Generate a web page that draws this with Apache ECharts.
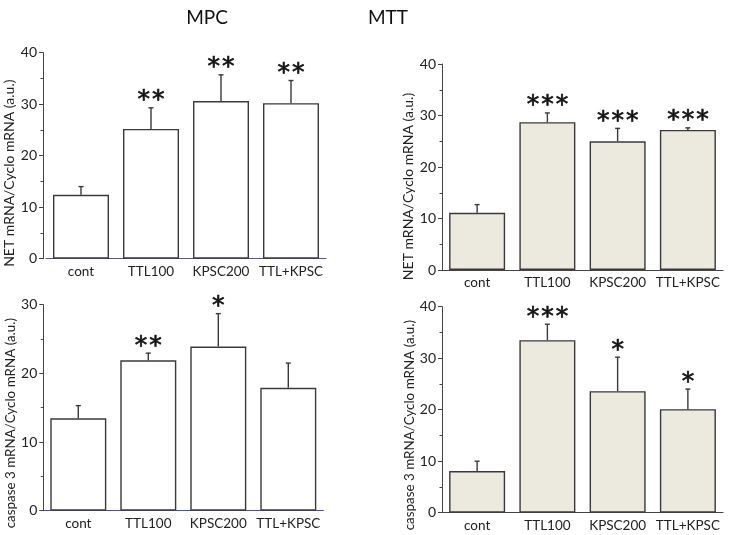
<!DOCTYPE html>
<html>
<head>
<meta charset="utf-8">
<script src="https://cdn.jsdelivr.net/npm/echarts@6/dist/echarts.min.js"></script>
<style>
html,body{margin:0;padding:0;background:#fff;}
#chart{width:729px;height:535px;}
</style>
</head>
<body>
<div id="chart"></div>
<script>
const categories = ['cont', 'TTL100', 'KPSC200', 'TTL+KPSC'];
const panelTitles = ['MPC', 'MTT'];
const netAxisName = 'NET mRNA/Cyclo mRNA (a.u.)';
const caspAxisName = 'caspase 3 mRNA/Cyclo mRNA (a.u.)';

const mpcNetMean = [12.4, 25.2, 30.6, 30.2];
const mpcNetErr = [1.6, 4.1, 5.1, 4.4];
const mpcNetSig = ['', '**', '**', '**'];

const mttNetMean = [11.1, 28.7, 25.0, 27.2];
const mttNetErr = [1.6, 1.8, 2.5, 0.4];
const mttNetSig = ['', '***', '***', '***'];

const mpcCaspMean = [13.45, 21.9, 23.9, 17.9];
const mpcCaspErr = [1.85, 1.05, 4.8, 3.6];
const mpcCaspSig = ['', '**', '*', ''];

const mttCaspMean = [8.1, 33.5, 23.6, 20.1];
const mttCaspErr = [1.9, 3.1, 6.6, 3.9];
const mttCaspSig = ['', '***', '*', '*'];

const yMax = [40, 40, 30, 40];

const FONT = 'Lato';
const panels = [
  {mean: mpcNetMean, err: mpcNetErr, sig: mpcNetSig, name: netAxisName, fill: '#ffffff', nameSize: 14,
   grid: {left: 46, top: 52.7, width: 280, height: 206}, yOffset: 3, pad: 35, gap: 22, xLine: '#5a5a78'},
  {mean: mttNetMean, err: mttNetErr, sig: mttNetSig, name: netAxisName, fill: '#eceade', nameSize: 14,
   grid: {left: 442, top: 64, width: 281, height: 206}, yOffset: 0, pad: 39, gap: 24, xLine: '#444444'},
  {mean: mpcCaspMean, err: mpcCaspErr, sig: mpcCaspSig, name: caspAxisName, fill: '#ffffff', nameSize: 13.4,
   grid: {left: 43.3, top: 304.7, width: 280, height: 206}, yOffset: 0, pad: 31, gap: 23, xLine: '#50508a'},
  {mean: mttCaspMean, err: mttCaspErr, sig: mttCaspSig, name: caspAxisName, fill: '#eceade', nameSize: 13.4,
   grid: {left: 442, top: 306.7, width: 281, height: 206}, yOffset: 0, pad: 31, gap: 24, xLine: '#444444'}
];

const grids = [], xAxes = [], yAxes = [], series = [];
panels.forEach((p, k) => {
  grids.push(Object.assign({outerBoundsMode: 'none', containLabel: false}, p.grid));
  xAxes.push({
    type: 'category', gridIndex: k, data: categories,
    axisLine: {lineStyle: {color: p.xLine, width: 1.2}},
    axisTick: {show: false},
    axisLabel: {color: '#222', fontFamily: FONT, fontSize: 13.5, margin: 6, interval: 0}
  });
  yAxes.push({
    type: 'value', gridIndex: k, min: 0, max: yMax[k], interval: 10, offset: p.yOffset,
    name: p.name, nameLocation: 'middle', nameGap: p.gap, nameRotate: 90,
    nameTextStyle: {color: '#222', fontFamily: FONT, fontSize: p.nameSize, padding: [0, p.pad, 0, 0]},
    axisLine: {show: true, lineStyle: {color: '#444', width: 1}},
    axisTick: {show: true, length: 4, lineStyle: {color: '#444'}},
    minorTick: {show: true, splitNumber: 2, length: 2.5, lineStyle: {color: '#444'}},
    splitLine: {show: false},
    axisLabel: {color: '#222', fontFamily: FONT, fontSize: 14, margin: 6}
  });
  series.push({
    type: 'bar', xAxisIndex: k, yAxisIndex: k, data: p.mean, barWidth: 56,
    itemStyle: {color: p.fill, borderColor: '#3a3a3a', borderWidth: 1.4},
    animation: false, z: 2
  });
  series.push({
    type: 'custom', xAxisIndex: k, yAxisIndex: k, animation: false, z: 3,
    data: p.mean.map((m, i) => [i, m, p.err[i]]),
    renderItem: function (params, api) {
      const i = params.dataIndex;
      const base = api.coord([api.value(0), api.value(1)]);
      const top = api.coord([api.value(0), api.value(1) + api.value(2)]);
      const style = {stroke: '#3a3a3a', lineWidth: 1.4};
      const children = [
        {type: 'line', shape: {x1: base[0], y1: base[1], x2: top[0], y2: top[1]}, style: style},
        {type: 'line', shape: {x1: top[0] - 2.5, y1: top[1], x2: top[0] + 2.5, y2: top[1]}, style: style}
      ];
      const n = p.sig[i].length;
      const pitch = 14.5;
      for (let j = 0; j < n; j++) {
        children.push({
          type: 'text',
          style: {
            text: '*', x: top[0] + (j - (n - 1) / 2) * pitch, y: top[1] - 7,
            fill: '#111', stroke: '#111', lineWidth: 0.7, font: '25px "DejaVu Sans"',
            align: 'center', verticalAlign: 'middle'
          }
        });
      }
      return {type: 'group', children: children};
    }
  });
});

const chart = echarts.init(document.getElementById('chart'), null, {renderer: 'canvas'});
chart.setOption({
  backgroundColor: '#fff',
  animation: false,
  title: [
    {text: panelTitles[0], left: 202, top: 3, textAlign: 'center',
     textStyle: {fontFamily: FONT, fontSize: 19, fontWeight: 'normal', color: '#111'}},
    {text: panelTitles[1], left: 383, top: 3, textAlign: 'center',
     textStyle: {fontFamily: FONT, fontSize: 19, fontWeight: 'normal', color: '#111'}}
  ],
  grid: grids, xAxis: xAxes, yAxis: yAxes, series: series
});
</script>
</body>
</html>
